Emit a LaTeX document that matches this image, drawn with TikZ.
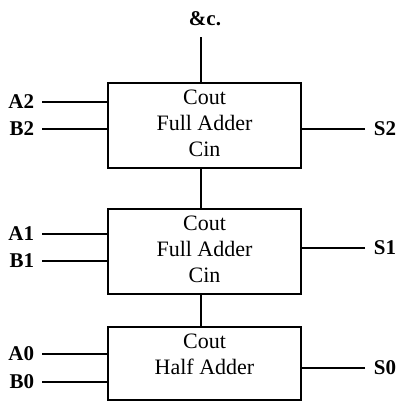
\documentclass[tikz,border=0pt]{standalone}
\usepackage{fontspec}
\setmainfont{Liberation Serif}
\begin{document}
\begin{tikzpicture}[x=1pt,y=-1pt,line width=1.7pt,
  adder/.style={draw,rectangle,minimum width=193pt,inner sep=0pt},
  boxtext/.style={align=center,font=\fontsize{22}{26}\selectfont,inner sep=0pt},
  pin/.style={font=\fontsize{21}{24}\selectfont\bfseries,inner ysep=0pt,inner xsep=7pt}]
\useasboundingbox (0,0) rectangle (398,403);
% the three adder stages
\node[adder,minimum height=85pt] (fa2) at (204.5,125.5) {};
\node[adder,minimum height=85pt] (fa1) at (204.5,251.5) {};
\node[adder,minimum height=73pt] (ha0) at (204.5,363.5) {};
\node[boxtext] (t2) at (204.5,123.3) {Cout\\Full Adder\\Cin};
\node[boxtext] (t1) at (204.5,249) {Cout\\Full Adder\\Cin};
\node[boxtext] (t0) at (204.5,354.5) {Cout\\Half Adder};
% carry chain
\node[pin,inner ysep=10pt] (etc) at (205,19) {\&c.};
\draw ([xshift=-3.5pt]fa2.north) -- ([xshift=-3.5pt]fa2.north |- etc.south);
\draw ([xshift=-3.5pt]fa2.south) -- ([xshift=-3.5pt]fa1.north);
\draw ([xshift=-3.5pt]fa1.south) -- ([xshift=-3.5pt]ha0.north);
% inputs
\node[pin,anchor=east] (a2) at (42,102) {A2};
\node[pin,anchor=east] (b2) at (42,129) {B2};
\node[pin,anchor=east] (a1) at (42,234) {A1};
\node[pin,anchor=east] (b1) at (42,261) {B1};
\node[pin,anchor=east] (a0) at (42,354) {A0};
\node[pin,anchor=east] (b0) at (42,382) {B0};
\foreach \n/\b in {a2/fa2,b2/fa2,a1/fa1,b1/fa1,a0/ha0,b0/ha0}
  \draw (\n.east) -- (\n.east -| \b.west);
% sums
\node[pin,anchor=west,inner xsep=8pt] (s2) at (365,129) {S2};
\node[pin,anchor=west,inner xsep=8pt] (s1) at (365,248) {S1};
\node[pin,anchor=west,inner xsep=8pt] (s0) at (365,368) {S0};
\foreach \n/\b in {s2/fa2,s1/fa1,s0/ha0}
  \draw (\n.west) -- (\n.west -| \b.east);
\end{tikzpicture}
\end{document}
